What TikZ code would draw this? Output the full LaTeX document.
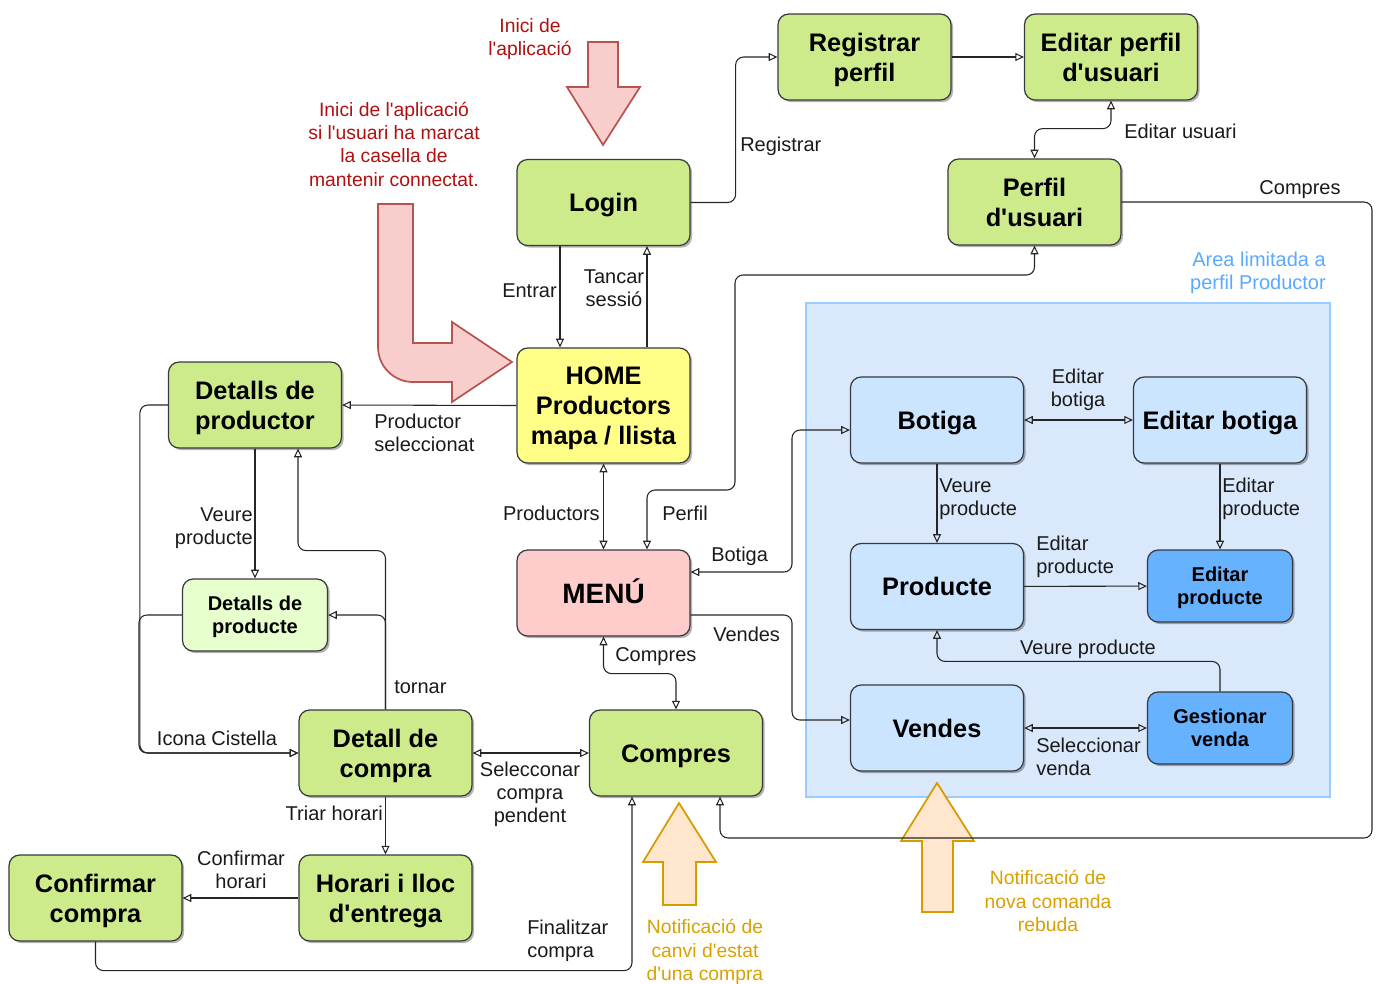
\documentclass[tikz,border=0pt]{standalone}
\usepackage{fontspec}
\setmainfont{Liberation Sans}[Ligatures=TeXOff]
\usetikzlibrary{arrows.meta,shadows,calc}

\definecolor{edge}{HTML}{36393D}
\definecolor{gfill}{HTML}{CDEB8B}
\definecolor{lgfill}{HTML}{E6FFCC}
\definecolor{yfill}{HTML}{FFFF88}
\definecolor{pfill}{HTML}{FFCCCC}
\definecolor{bfill}{HTML}{CCE5FF}
\definecolor{dbfill}{HTML}{66B2FF}
\definecolor{areafill}{HTML}{DAE8FC}
\definecolor{areaedge}{HTML}{99CCFF}
\definecolor{areatext}{HTML}{5AA9FF}
\definecolor{redfill}{HTML}{F8CECC}
\definecolor{rededge}{HTML}{B85450}
\definecolor{redtext}{HTML}{B01010}
\definecolor{orfill}{HTML}{FFE6CC}
\definecolor{oredge}{HTML}{D79B00}
\definecolor{ortext}{HTML}{D9A000}
\definecolor{lbltext}{HTML}{1A1A1A}

% invisible struts that give every box text the same line box
\newcommand\boxtop{\rule{0pt}{0.97em}}
\newcommand\boxbot{\rule[-0.25em]{0pt}{0pt}}

\tikzset{
  otri/.tip={Triangle[open,length=6.5pt,width=6pt,line width=0.8pt]},
  box/.style={draw=edge, line width=0.9pt, rounded corners=8pt,
    minimum width=129.75pt, minimum height=64.5pt, align=center, inner sep=2pt,
    font=\bfseries\fontsize{19}{22.5}\selectfont,
    drop shadow={shadow xshift=1.6pt, shadow yshift=-1.6pt, opacity=0.3, fill=black}},
  greenbox/.style={box, fill=gfill},
  smallbox/.style={box, minimum width=108.75pt, minimum height=54pt,
    font=\bfseries\fontsize{15}{17.5}\selectfont},
  conn/.style={draw=black!85, line width=0.8pt, rounded corners=6pt, -otri},
  conn2/.style={conn, otri-otri},
  lbl/.style={inner sep=0pt, text=lbltext, font=\fontsize{15}{17.25}\selectfont},
  redlbl/.style={inner sep=0pt, text=redtext, align=center, font=\fontsize{14.5}{17.5}\selectfont},
  orlbl/.style={inner sep=0pt, text=ortext, align=center, font=\fontsize{14.5}{17.5}\selectfont},
}

\begin{document}
\begin{tikzpicture}[x=0.75pt, y=-0.75pt]
\useasboundingbox (0,0) rectangle (1376,983);

% producer-only area
\draw[fill=areafill, draw=areaedge, line width=2.2pt] (806,303) rectangle (1330,797);
\node[inner sep=0pt, anchor=east, align=right, text=areatext,
  font=\fontsize{15}{17.25}\selectfont] (tArea) at (1326,273) {Area limitada a\\perfil Productor};

% start arrows
\draw[fill=redfill, draw=rededge, line width=1.3pt]
  (588,42) -- (618,42) -- (618,87) -- (640,87) -- (603,145) -- (567,87) -- (588,87) -- cycle;
\node[redlbl] (tStart) at (530,39) {Inici de\\l'aplicació};
\draw[fill=redfill, draw=rededge, line width=1.3pt]
  (378,204) -- (413,204) -- (413,343) -- (452,343) -- (452,322) -- (512,362)
  -- (452,402) -- (452,382) -- (413,382) arc[start angle=90, end angle=180, radius=35] -- cycle;
\node[redlbl] (tKeep) at (394,144) {Inici de l'aplicació\\si l'usuari ha marcat\\la casella de\\mantenir connectat.};

% notification arrows
\draw[fill=orfill, draw=oredge, line width=1.3pt]
  (679,803) -- (716,862) -- (696,862) -- (696,905) -- (663,905) -- (663,862) -- (643,862) -- cycle;
\node[orlbl] (tNotifA) at (705,952) {Notificació de\\canvi d'estat\\d'una compra};
\draw[fill=orfill, draw=oredge, line width=1.3pt]
  (937,783) -- (974,841) -- (953,841) -- (953,912) -- (922,912) -- (922,841) -- (901,841) -- cycle;
\node[orlbl] (tNotifB) at (1048,901) {Notificació de\\nova comanda\\rebuda};

% screens
\node[greenbox] (login) at (603.5,202.5) {\boxtop Login\boxbot};
\node[greenbox] (regp) at (864.5,57) {\boxtop Registrar\\perfil\boxbot};
\node[greenbox] (editp) at (1111,57) {\boxtop Editar perfil\\d'usuari\boxbot};
\node[greenbox] (perfil) at (1034.5,202) {\boxtop Perfil\\d'usuari\boxbot};
\node[box, fill=yfill, minimum height=86.25pt] (home) at (603.5,405.5) {\boxtop HOME\\Productors\\mapa / llista\boxbot};
\node[greenbox] (dprod) at (255,405) {\boxtop Detalls de\\productor\boxbot};
\node[smallbox, fill=lgfill] (dpr) at (255,615) {\boxtop Detalls de\\producte\boxbot};
\node[box, fill=pfill, font=\bfseries\fontsize{21}{24}\selectfont] (menu) at (603.5,593) {\boxtop MENÚ\boxbot};
\node[greenbox] (dcomp) at (385.5,753) {\boxtop Detall de\\compra\boxbot};
\node[greenbox] (compres) at (676,753) {\boxtop Compres\boxbot};
\node[greenbox] (confirm) at (95.5,898) {\boxtop Confirmar\\compra\boxbot};
\node[greenbox] (horari) at (385.5,898) {\boxtop Horari i lloc\\d'entrega\boxbot};
\node[box, fill=bfill] (botiga) at (937,420) {\boxtop Botiga\boxbot};
\node[box, fill=bfill] (ebot) at (1220,420) {\boxtop Editar botiga\boxbot};
\node[box, fill=bfill] (producte) at (937,586.5) {\boxtop Producte\boxbot};
\node[smallbox, fill=dbfill] (eprod) at (1220,586) {\boxtop Editar\\producte\boxbot};
\node[box, fill=bfill] (vendes) at (937,728) {\boxtop Vendes\boxbot};
\node[smallbox, fill=dbfill] (gest) at (1220,728) {\boxtop Gestionar\\venda\boxbot};

% transitions
\draw[conn] (login.east) -- ++(45,0) |- (regp.west);
\node[lbl, anchor=west] (tReg) at (740,146) {Registrar};
\draw[conn] (regp) -- (editp);
\draw[conn2] (editp.south) -- ++(0,28) -| (perfil.north);
\node[lbl, anchor=west] (tEdU) at (1124,131) {Editar usuari};
\draw[conn] (perfil.east) -| (1372,838) -| ($(compres.south)+(44,0)$);
\node[lbl] (tCompA) at (1300,190) {Compres};

\draw[conn] ($(login.south)+(-43.5,0)$) -- ($(home.north)+(-43.5,0)$);
\node[lbl, anchor=east] (tEntrar) at (557,291) {Entrar};
\draw[conn] ($(home.north)+(43.5,0)$) -- ($(login.south)+(43.5,0)$);
\node[lbl, align=center] (tTanc) at (614,288) {Tancar\\sessió};

\draw[conn] (home.west) -- (dprod.east);
\node[lbl, align=left, anchor=west] (tSel) at (374,433) {Productor\\seleccionat};
\draw[conn2] (home) -- (menu);
\node[lbl, anchor=east] (tProd) at (600,513) {Productors};
\draw[conn2] ($(menu.north)+(43.5,0)$) |- (735,490) -- (735,275) -| (perfil.south);
\node[lbl, anchor=west] (tPerf) at (662,513) {Perfil};
\draw[conn2] ($(menu.east)+(0,-21)$) -| (792,500) |- ($(botiga.west)+(0,10)$);
\node[lbl, anchor=west] (tBot) at (711,556) {Botiga};
\draw[conn] ($(menu.east)+(0,22)$) -| (792,680) |- ($(vendes.west)+(0,-8)$);
\node[lbl, anchor=west] (tVend) at (713,634) {Vendes};
\draw[conn2] (menu.south) -- ++(0,37) -| (compres.north);
\node[lbl, anchor=west] (tCompB) at (615,657) {Compres};

\draw[conn] (dprod.south) -- (dpr.north);
\node[lbl, align=right, anchor=east] (tVeureA) at (253,528) {Veure\\producte};
\draw[conn] (dcomp.north) |- ($(dprod.south)+(43,102)$) -- ($(dprod.south)+(43,0)$);
\draw[conn] (dcomp.north) |- (dpr.east);
\node[lbl, anchor=west] (tTorn) at (394,687) {tornar};
\draw[conn] (dprod.west) -- ++(-28,0) |- (dcomp.west);
\draw[conn] (dpr.west) -- ++(-43,0) |- (dcomp.west);
\node[lbl] (tCist) at (217,738) {Icona Cistella};
\draw[conn2] (dcomp) -- (compres);
\node[lbl, align=center] (tSelC) at (530,794) {Selecconar\\compra\\pendent};
\draw[conn] (dcomp) -- (horari);
\node[lbl, anchor=east] (tTriar) at (383,813) {Triar horari};
\draw[conn] (horari) -- (confirm);
\node[lbl, align=center] (tConfH) at (241,870) {Confirmar\\horari};
\draw[conn] (confirm.south) -- ++(0,29) -| ($(compres.south)+(-44,0)$);
\node[lbl, align=left, anchor=west] (tFin) at (527,941) {Finalitzar\\compra};

\draw[conn2] (botiga) -- (ebot);
\node[lbl, align=center] (tEdB) at (1078,390) {Editar\\botiga};
\draw[conn] (botiga) -- (producte);
\node[lbl, align=left, anchor=west] (tVeureB) at (939,499) {Veure\\producte};
\draw[conn] (ebot) -- (eprod);
\node[lbl, align=left, anchor=west] (tEdPA) at (1222,499) {Editar\\producte};
\draw[conn] (producte) -- (eprod);
\node[lbl, align=left, anchor=west] (tEdPB) at (1036,557) {Editar\\producte};
\draw[conn] (gest.north) -- ++(0,-30) -| (producte.south);
\node[lbl] (tVeureC) at (1088,649) {Veure producte};
\draw[conn2] (vendes) -- (gest);
\node[lbl, align=left, anchor=west] (tSelV) at (1036,757) {Seleccionar\\venda};
\end{tikzpicture}
\end{document}
